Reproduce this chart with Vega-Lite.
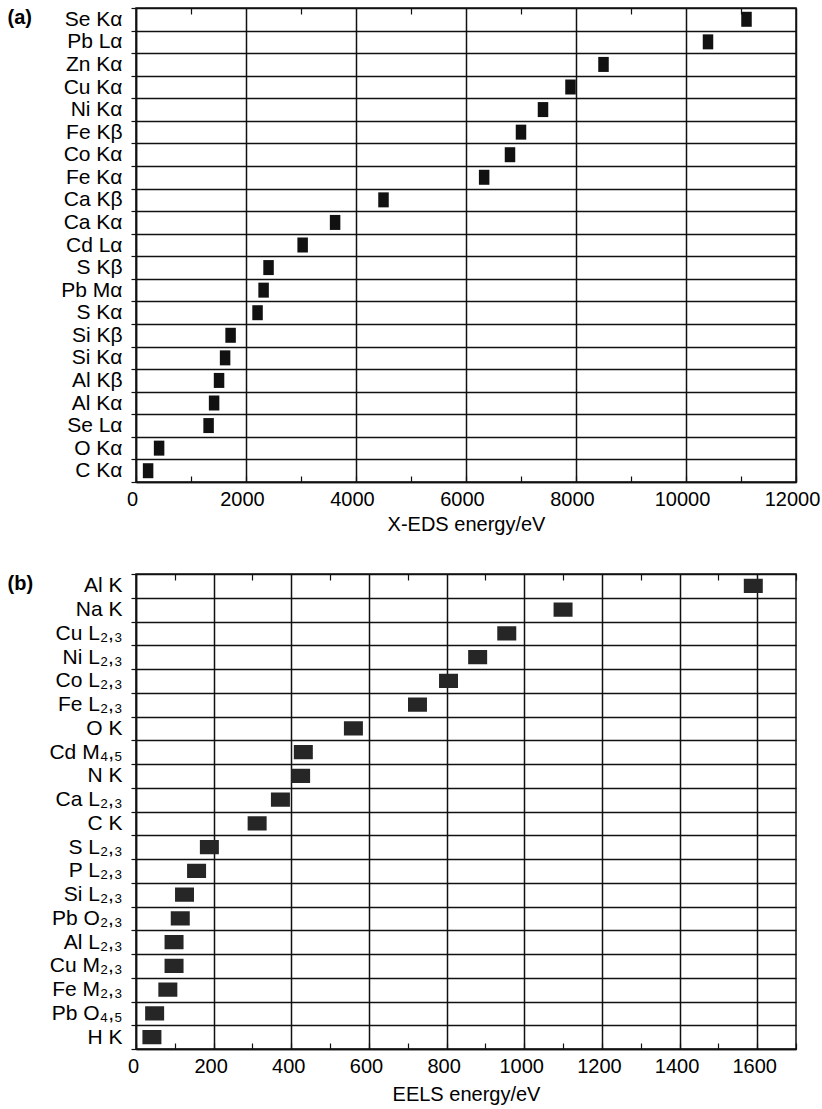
{
  "$schema": "https://vega.github.io/schema/vega-lite/v6.json",
  "padding": {"left": 6, "top": -4, "right": 0, "bottom": 0},
  "config": {
    "font": "Liberation Sans",
    "view": {"stroke": "#111", "strokeWidth": 1.5},
    "axis": {"labelColor": "#000", "titleColor": "#000", "domainColor": "#111", "domainWidth": 1.5, "tickColor": "#111"}
  },
  "datasets": {
    "xeds": [
      {"line": "Se Kα", "energy": 11100},
      {"line": "Pb Lα", "energy": 10400},
      {"line": "Zn Kα", "energy": 8500},
      {"line": "Cu Kα", "energy": 7900},
      {"line": "Ni Kα", "energy": 7400},
      {"line": "Fe Kβ", "energy": 7000},
      {"line": "Co Kα", "energy": 6800},
      {"line": "Fe Kα", "energy": 6330},
      {"line": "Ca Kβ", "energy": 4500},
      {"line": "Ca Kα", "energy": 3620},
      {"line": "Cd Lα", "energy": 3030},
      {"line": "S Kβ", "energy": 2410},
      {"line": "Pb Mα", "energy": 2320},
      {"line": "S Kα", "energy": 2210},
      {"line": "Si Kβ", "energy": 1720},
      {"line": "Si Kα", "energy": 1620},
      {"line": "Al Kβ", "energy": 1510},
      {"line": "Al Kα", "energy": 1420},
      {"line": "Se Lα", "energy": 1320},
      {"line": "O Kα", "energy": 420},
      {"line": "C Kα", "energy": 220}
    ],
    "eels": [
      {"edge": "Al K", "energy": 1590},
      {"edge": "Na K", "energy": 1100},
      {"edge": "Cu L₂,₃", "energy": 955},
      {"edge": "Ni L₂,₃", "energy": 880},
      {"edge": "Co L₂,₃", "energy": 805},
      {"edge": "Fe L₂,₃", "energy": 725},
      {"edge": "O K", "energy": 560},
      {"edge": "Cd M₄,₅", "energy": 431},
      {"edge": "N K", "energy": 424},
      {"edge": "Ca L₂,₃", "energy": 372},
      {"edge": "C K", "energy": 312},
      {"edge": "S L₂,₃", "energy": 189},
      {"edge": "P L₂,₃", "energy": 156},
      {"edge": "Si L₂,₃", "energy": 125},
      {"edge": "Pb O₂,₃", "energy": 114},
      {"edge": "Al L₂,₃", "energy": 98},
      {"edge": "Cu M₂,₃", "energy": 98},
      {"edge": "Fe M₂,₃", "energy": 82},
      {"edge": "Pb O₄,₅", "energy": 48},
      {"edge": "H K", "energy": 41}
    ]
  },
  "bounds": "flush",
  "spacing": 92,
  "vconcat": [
    {
      "width": 660,
      "height": 474,
      "data": {"name": "xeds"},
      "layer": [
        {
          "mark": {"type": "point", "shape": "M-0.7,-1H0.7V1H-0.7Z", "size": 225, "filled": true, "color": "#111", "opacity": 1, "strokeWidth": 0},
          "encoding": {
            "x": {
              "field": "energy", "type": "quantitative",
              "scale": {"domain": [0, 12000], "nice": false, "zero": true},
              "axis": {
                "values": [0, 1000, 2000, 3000, 4000, 5000, 6000, 7000, 8000, 9000, 10000, 11000, 12000],
                "format": "d",
                "labelExpr": "datum.value % 2000 === 0 ? datum.label : ''",
                "labelFlush": false, "labelOverlap": false, "labelOffset": -4,
                "grid": true,
                "gridOpacity": {"condition": {"test": "datum.value % 2000 === 0", "value": 1}, "value": 0},
                "gridColor": "#111", "gridWidth": 1.5,
                "tickSize": -6, "tickWidth": 1.2,
                "labelPadding": 13, "labelFontSize": 20,
                "title": "X-EDS energy/eV", "titleFontSize": 20, "titleFontWeight": "normal", "titlePadding": 5
              }
            },
            "y": {
              "field": "line", "type": "nominal", "sort": null,
              "scale": {"type": "band", "paddingInner": 0, "paddingOuter": 0},
              "axis": {
                "title": "(a)", "titleAngle": 0, "titleX": -129, "titleY": -1, "titleAlign": "left", "titleBaseline": "top", "titleFontSize": 20, "titleFontWeight": "bold",
                "tickBand": "extent", "grid": true, "gridColor": "#111", "gridWidth": 1.5, "tickSize": 5, "tickWidth": 1.2, "labelPadding": 9, "labelFontSize": 21
              }
            }
          }
        },
        {
          "mark": {"type": "point", "opacity": 0},
          "encoding": {
            "x": {
              "field": "energy", "type": "quantitative",
              "axis": {"orient": "top", "values": [1000, 3000, 5000, 7000, 9000, 11000], "labels": false, "grid": false, "domain": false, "tickSize": -6, "tickWidth": 1.2, "title": null}
            }
          }
        }
      ],
      "resolve": {"axis": {"x": "independent"}}
    },
    {
      "width": 660,
      "height": 475,
      "data": {"name": "eels"},
      "layer": [
        {
          "mark": {"type": "point", "shape": "M-1,-0.75H1V0.75H-1Z", "size": 361, "filled": true, "color": "#262626", "opacity": 1, "strokeWidth": 0},
          "encoding": {
            "x": {
              "field": "energy", "type": "quantitative",
              "scale": {"domain": [0, 1700], "nice": false, "zero": true},
              "axis": {
                "values": [0, 100, 200, 300, 400, 500, 600, 700, 800, 900, 1000, 1100, 1200, 1300, 1400, 1500, 1600, 1700],
                "format": "d",
                "labelExpr": "datum.value % 200 === 0 ? datum.label : ''",
                "labelFlush": false, "labelOverlap": false, "labelOffset": -3,
                "grid": true,
                "gridOpacity": {"condition": {"test": "datum.value % 200 === 0", "value": 1}, "value": 0},
                "gridColor": "#111", "gridWidth": 1.5,
                "tickSize": -6, "tickWidth": 1.2,
                "labelPadding": 13, "labelFontSize": 20,
                "title": "EELS energy/eV", "titleFontSize": 20, "titleFontWeight": "normal", "titlePadding": 8
              }
            },
            "y": {
              "field": "edge", "type": "nominal", "sort": null,
              "scale": {"type": "band", "paddingInner": 0, "paddingOuter": 0},
              "axis": {
                "title": "(b)", "titleAngle": 0, "titleX": -129, "titleY": -1, "titleAlign": "left", "titleBaseline": "top", "titleFontSize": 20, "titleFontWeight": "bold",
                "tickBand": "extent", "grid": true, "gridColor": "#111", "gridWidth": 1.5, "tickSize": 5, "tickWidth": 1.2, "labelPadding": 9, "labelFontSize": 21
              }
            }
          }
        },
        {
          "mark": {"type": "point", "opacity": 0},
          "encoding": {
            "x": {
              "field": "energy", "type": "quantitative",
              "axis": {"orient": "top", "values": [100, 300, 500, 700, 900, 1100, 1300, 1500, 1700], "labels": false, "grid": false, "domain": false, "tickSize": -6, "tickWidth": 1.2, "title": null}
            }
          }
        }
      ],
      "resolve": {"axis": {"x": "independent"}}
    }
  ]
}
